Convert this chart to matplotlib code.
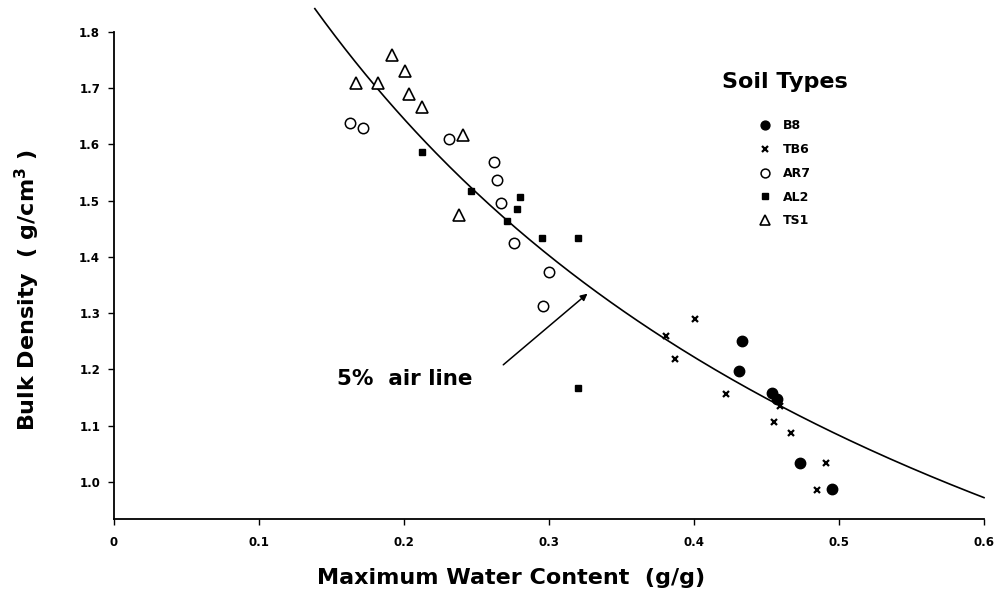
import numpy as np
import matplotlib.pyplot as plt

plt.rcParams['font.family'] = ['DejaVu Sans']
plt.rcParams['mathtext.default'] = 'bf'

# maximum water content (g/g) and bulk density (g/cm3) per soil
b8_w = [0.433, 0.431, 0.454, 0.457, 0.473, 0.495]
b8_rho = [1.251, 1.198, 1.158, 1.148, 1.034, 0.988]

tb6_w = [0.381, 0.401, 0.387, 0.422, 0.459, 0.455, 0.467, 0.491, 0.485]
tb6_rho = [1.260, 1.290, 1.219, 1.157, 1.135, 1.107, 1.087, 1.034, 0.986]

ar7_w = [0.163, 0.172, 0.231, 0.262, 0.264, 0.267, 0.276, 0.300, 0.296]
ar7_rho = [1.639, 1.630, 1.609, 1.569, 1.536, 1.496, 1.425, 1.374, 1.313]

al2_w = [0.2125, 0.246, 0.271, 0.280, 0.278, 0.2955, 0.320, 0.320]
al2_rho = [1.587, 1.518, 1.464, 1.507, 1.486, 1.434, 1.434, 1.167]

ts1_w = [0.167, 0.182, 0.192, 0.201, 0.2035, 0.2125, 0.241, 0.238]
ts1_rho = [1.709, 1.709, 1.760, 1.731, 1.689, 1.667, 1.616, 1.475]

# 5% air voids line: rho_d = (1 - air) / (1/Gs + w)
air = 0.05
gs = 2.65
w_line = np.linspace(0.1385, 0.6, 200)
rho_line = (1 - air) / (1 / gs + w_line)

fig = plt.figure(figsize=(10, 5.92), dpi=100)
ax = fig.add_axes([0.114, 0.1233, 0.870, 0.8226])

ax.plot(w_line, rho_line, color='black', lw=1.2, clip_on=False)

ax.plot(b8_w, b8_rho, 'o', color='black', ms=7.5, ls='none', label='B8')
ax.plot(tb6_w, tb6_rho, 'x', color='black', ms=4.5, mew=1.6, ls='none', label='TB6')
ax.plot(ar7_w, ar7_rho, 'o', mfc='white', mec='black', mew=1.1, ms=7.5, ls='none', label='AR7')
ax.plot(al2_w, al2_rho, 's', color='black', ms=5, ls='none', label='AL2')
ax.plot(ts1_w, ts1_rho, '^', mfc='white', mec='black', mew=1.2, ms=8, ls='none', label='TS1')

ax.annotate('', xy=(0.328, 1.338), xytext=(0.267, 1.205),
            arrowprops=dict(arrowstyle='-|>', color='black', lw=1.1,
                            mutation_scale=10))
ax.text(0.154, 1.183, '5%  air line', fontsize=15.5, fontweight='bold',
        va='center', ha='left')

leg = ax.legend(loc='upper left', bbox_to_anchor=(0.693, 0.929), frameon=False,
                title='Soil Types', fontsize=9, handletextpad=0.9,
                labelspacing=0.86, handlelength=1.0, borderaxespad=0,
                markerscale=0.85)
leg.get_title().set_fontsize(16)
leg.get_title().set_fontweight('bold')
for t in leg.get_texts():
    t.set_fontweight('bold')
leg._legend_box.sep = 20

ax.set_xlim(0, 0.6)
ax.set_ylim(0.934, 1.8)
ax.set_xticks([0, 0.1, 0.2, 0.3, 0.4, 0.5, 0.6])
ax.set_xticklabels(['0', '0.1', '0.2', '0.3', '0.4', '0.5', '0.6'])
ax.set_yticks([1.0, 1.1, 1.2, 1.3, 1.4, 1.5, 1.6, 1.7, 1.8])
ax.set_yticklabels(['1.0', '1.1', '1.2', '1.3', '1.4', '1.5', '1.6', '1.7', '1.8'])
ax.tick_params(direction='out', length=4, width=1, labelsize=8.5)
ax.tick_params(axis='x', pad=8)
ax.tick_params(axis='y', pad=6)
for lab in ax.get_xticklabels() + ax.get_yticklabels():
    lab.set_fontweight('bold')

ax.spines['top'].set_visible(False)
ax.spines['right'].set_visible(False)
ax.spines['left'].set_linewidth(1.3)
ax.spines['bottom'].set_linewidth(1.3)

ax.set_xlabel('Maximum Water Content  (g/g)', fontsize=16, fontweight='bold')
ax.xaxis.set_label_coords(0.456, -0.121)
ax.xaxis.label.set_va('center')
ax.set_ylabel('Bulk Density  ( g/cm$^{3}$ )', fontsize=16, fontweight='bold')
ax.yaxis.set_label_coords(-0.100, 0.470)
ax.yaxis.label.set_va('center')

fig.savefig('out.png', dpi=100)
